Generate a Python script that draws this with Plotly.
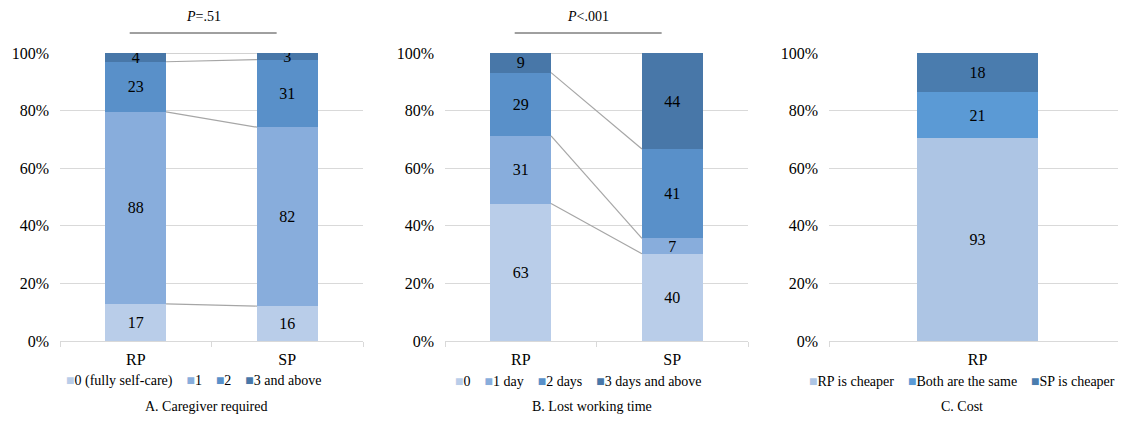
import plotly.graph_objects as go

# ---------------- data ----------------
groups_ab = ["RP", "SP"]

care_levels = ["0 (fully self-care)", "1", "2", "3 and above"]
care_rp = [17, 88, 23, 4]
care_sp = [16, 82, 31, 3]
care_p = "<i>P</i>=.51"

lost_levels = ["0", "1 day", "2 days", "3 days and above"]
lost_rp = [63, 31, 29, 9]
lost_sp = [40, 7, 41, 44]
lost_p = "<i>P</i><.001"

cost_group = ["RP"]
cost_levels = ["RP is cheaper", "Both are the same", "SP is cheaper"]
cost_rp = [93, 21, 18]

panel_titles = ["A. Caregiver required", "B. Lost working time", "C. Cost"]

# ---------------- styles ----------------
colors4 = ["#b9cde9", "#88addc", "#5990c9", "#4877a8"]
colors3 = ["#adc5e4", "#5b9ad5", "#4a7cae"]
FONT = "Liberation Serif"
PAGE_OFF = 8            # default body margin of the html page
W, H = 1126 - PAGE_OFF, 428 - PAGE_OFF
GRID = "#d9d9d9"
CONN = "#a6a6a6"


def px_x(p):
    return (p - PAGE_OFF) / W


def px_y(p):
    return 1 - (p - PAGE_OFF) / H


fig = go.Figure()

x_domains = [(60, 363), (445, 748), (829, 1126)]
y_dom = [px_y(341), px_y(53)]
axis_names = [("x", "y"), ("x2", "y2"), ("x3", "y3")]


def add_stacked(levels, series, colors, xa, ya, width):
    n_groups = len(series)
    totals = [sum(s) for s in series]
    for k, lev in enumerate(levels):
        vals = [series[g][k] for g in range(n_groups)]
        fig.add_trace(go.Bar(
            x=list(range(n_groups)),
            y=[vals[g] / totals[g] for g in range(n_groups)],
            text=[str(v) for v in vals],
            name=lev,
            width=width,
            marker=dict(color=colors[k], line=dict(width=0)),
            textposition="inside",
            insidetextanchor="middle",
            constraintext="none",
            textangle=0,
            textfont=dict(family=FONT, size=16, color="#000000"),
            xaxis=xa, yaxis=ya, showlegend=False,
            hovertemplate="%{text}<extra>" + lev + "</extra>",
        ))
    if n_groups == 2:
        cum = [0.0, 0.0]
        for k in range(len(levels)):
            for g in range(2):
                cum[g] += series[g][k] / totals[g]
            fig.add_trace(go.Scatter(
                x=[0 + width / 2, 1 - width / 2],
                y=[cum[0], cum[1]],
                mode="lines",
                line=dict(color=CONN, width=1.2),
                xaxis=xa, yaxis=ya, showlegend=False, hoverinfo="skip",
            ))


add_stacked(care_levels, [care_rp, care_sp], colors4, "x", "y", 0.4)
add_stacked(lost_levels, [lost_rp, lost_sp], colors4, "x2", "y2", 0.4)
add_stacked(cost_levels, [cost_rp], colors3, "x3", "y3", 0.407)

layout = dict(
    width=W, height=H,
    margin=dict(l=0, r=0, t=0, b=0, autoexpand=False),
    paper_bgcolor="white", plot_bgcolor="white",
    font=dict(family=FONT, size=14, color="#000000"),
    barmode="stack",
    showlegend=False,
)

cats = [groups_ab, groups_ab, cost_group]
for i, ((xa, ya), (d0, d1)) in enumerate(zip(axis_names, x_domains)):
    xkey = "xaxis" if i == 0 else f"xaxis{i+1}"
    ykey = "yaxis" if i == 0 else f"yaxis{i+1}"
    n = len(cats[i])
    layout[xkey] = dict(
        domain=[max(0, px_x(d0)), min(1, px_x(d1))],
        anchor=ya,
        range=[-0.5, n - 0.5],
        tickvals=list(range(n)),
        ticktext=cats[i],
        showline=True, linecolor=GRID, linewidth=1,
        showgrid=False, zeroline=False,
        ticks="",
        ticklabelstandoff=4,
        automargin=False,
        tickfont=dict(family=FONT, size=16, color="#000000"),
        minor=dict(tickvals=[j - 0.5 for j in range(n + 1)], ticks="outside",
                   ticklen=5, tickcolor=GRID, showgrid=False),
        fixedrange=True,
    )
    layout[ykey] = dict(
        domain=y_dom,
        anchor=xa,
        range=[0, 1],
        tickvals=[0, 0.2, 0.4, 0.6, 0.8, 1.0],
        tickformat=".0%",
        showgrid=True, gridcolor=GRID, gridwidth=1.2,
        showline=False, zeroline=False,
        ticks="",
        ticklabelstandoff=10,
        automargin=False,
        tickfont=dict(family=FONT, size=16, color="#000000"),
        fixedrange=True,
    )

fig.update_layout(**layout)

# P-value brackets
for xa, ptxt in [("x", care_p), ("x2", lost_p)]:
    fig.add_shape(type="line", xref=xa, yref="paper", x0=-0.04, x1=0.93,
                  y0=px_y(33), y1=px_y(33), line=dict(color="#404040", width=1))
    fig.add_annotation(x=0.445, xref=xa, y=px_y(16), yref="paper", text=ptxt,
                       showarrow=False, font=dict(family=FONT, size=14),
                       xanchor="center", yanchor="middle")

# legends (colored squares + labels) and panel titles
legend_specs = [
    (care_levels, colors4, 193, panel_titles[0], 206),
    (lost_levels, colors4, 578, panel_titles[1], 592),
    (cost_levels, colors3, 962, panel_titles[2], 962),
]
for levels, cols, cx, title, tx in legend_specs:
    parts = [f"<span style='color:{c}'>■</span>{lev}" for lev, c in zip(levels, cols)]
    fig.add_annotation(x=px_x(cx), xref="paper", y=px_y(381), yref="paper",
                       text="\u00a0\u00a0\u00a0\u00a0".join(parts), showarrow=False,
                       font=dict(family=FONT, size=14), xanchor="center", yanchor="middle")
    fig.add_annotation(x=px_x(tx), xref="paper", y=px_y(406), yref="paper",
                       text=title, showarrow=False,
                       font=dict(family=FONT, size=14), xanchor="center", yanchor="middle")

fig.write_html("out.html")
